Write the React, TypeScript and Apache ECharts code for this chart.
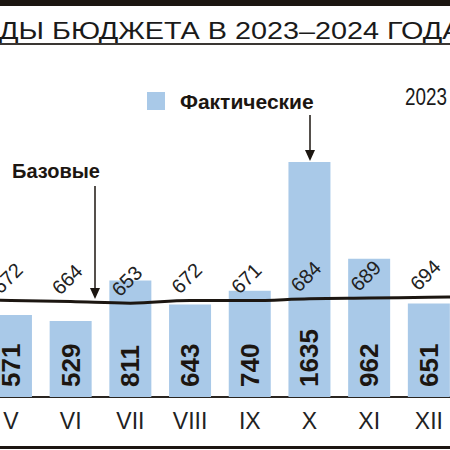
import { useEffect, useRef } from 'react';
import * as echarts from 'echarts';

// Months (IV and I sit just outside the visible crop)
const months = ['IV', 'V', 'VI', 'VII', 'VIII', 'IX', 'X', 'XI', 'XII', 'I'];
// Фактические
const actual = [null, 571, 529, 811, 643, 740, 1635, 962, 651, null];
// Базовые
const base = [676, 672, 664, 653, 672, 671, 684, 689, 694, 700];

const BAR = '#a9c9e8';
const INK = '#1c1611';

export default function App() {
  const chartRef = useRef<HTMLDivElement>(null);

  useEffect(() => {
    if (!chartRef.current) return;
    document.body.style.margin = '0';
    const chart = echarts.init(chartRef.current, null, { renderer: 'svg' });

    const option: echarts.EChartsOption = {
      animation: false,
      backgroundColor: '#ffffff',
      grid: {
        left: -78.6,
        right: -68.4,
        top: 138.3,
        bottom: 53,
        outerBoundsMode: 'none',
      } as any,
      xAxis: {
        type: 'category',
        data: months,
        axisLine: { lineStyle: { color: '#2a2520', width: 2 } },
        axisTick: { show: false },
        axisLabel: {
          margin: 12,
          fontSize: 23,
          color: '#222',
          fontFamily: "'Liberation Sans Narrow', 'Liberation Sans', sans-serif",
        },
      },
      yAxis: {
        type: 'value',
        min: 0,
        max: 1800,
        show: false,
        splitLine: { show: false },
      },
      series: [
        {
          name: 'Фактические',
          type: 'bar',
          data: actual,
          barWidth: 42,
          itemStyle: { color: BAR },
          label: {
            show: true,
            position: 'insideBottom',
            rotate: 90,
            align: 'left',
            verticalAlign: 'middle',
            distance: 10,
            fontSize: 26,
            fontWeight: 'bold',
            color: INK,
            fontFamily: "'Liberation Sans', Arial, sans-serif",
          },
          z: 1,
        },
        {
          name: 'Базовые',
          type: 'line',
          data: base,
          smooth: 0.4,
          symbol: 'circle',
          symbolSize: 1,
          itemStyle: { color: 'rgba(0,0,0,0)' },
          lineStyle: { color: INK, width: 3 },
          label: {
            show: true,
            position: 'top',
            rotate: 45,
            align: 'center',
            verticalAlign: 'middle',
            distance: 21,
            offset: [-2, -3],
            fontSize: 20,
            color: '#222',
            fontFamily: "'Liberation Sans', Arial, sans-serif",
          },
          z: 3,
        },
      ],
      graphic: [
        { type: 'rect', shape: { x: 0, y: 0, width: 450, height: 6 }, style: { fill: INK } },
        {
          type: 'text',
          x: -1,
          y: 31,
          scaleX: 1.2,
          style: {
            text: 'ДЫ БЮДЖЕТА В 2023–2024 ГОДА',
            font: "24px 'Liberation Sans', Arial, sans-serif",
            fill: '#1a1a1a',
            verticalAlign: 'middle',
          },
        },
        { type: 'rect', shape: { x: 0, y: 43, width: 450, height: 2 }, style: { fill: '#3a3632' } },
        { type: 'rect', shape: { x: 147, y: 92, width: 18, height: 18 }, style: { fill: BAR } },
        {
          type: 'text',
          x: 180,
          y: 101,
          style: {
            text: 'Фактические',
            font: "bold 21px 'Liberation Sans', Arial, sans-serif",
            fill: INK,
            verticalAlign: 'middle',
          },
        },
        {
          type: 'text',
          x: 405,
          y: 97,
          scaleX: 0.82,
          style: {
            text: '2023',
            font: "23px 'Liberation Sans', Arial, sans-serif",
            fill: '#1a1a1a',
            verticalAlign: 'middle',
          },
        },
        { type: 'line', shape: { x1: 310, y1: 115, x2: 310, y2: 152 }, style: { stroke: INK, lineWidth: 1.5 } },
        { type: 'polygon', shape: { points: [[305, 150], [315, 150], [310, 161]] }, style: { fill: INK } },
        {
          type: 'text',
          x: 12,
          y: 171,
          style: {
            text: 'Базовые',
            font: "bold 20px 'Liberation Sans', Arial, sans-serif",
            fill: INK,
            verticalAlign: 'middle',
          },
        },
        { type: 'line', shape: { x1: 95, y1: 186, x2: 95, y2: 290 }, style: { stroke: INK, lineWidth: 1.5 } },
        { type: 'polygon', shape: { points: [[90, 288], [100, 288], [95, 299]] }, style: { fill: INK } },
        { type: 'rect', shape: { x: 0, y: 446, width: 450, height: 3 }, style: { fill: INK } },
      ],
    };

    chart.setOption(option);
    return () => chart.dispose();
  }, []);

  return <div ref={chartRef} style={{ width: 450, height: 450 }} />;
}
